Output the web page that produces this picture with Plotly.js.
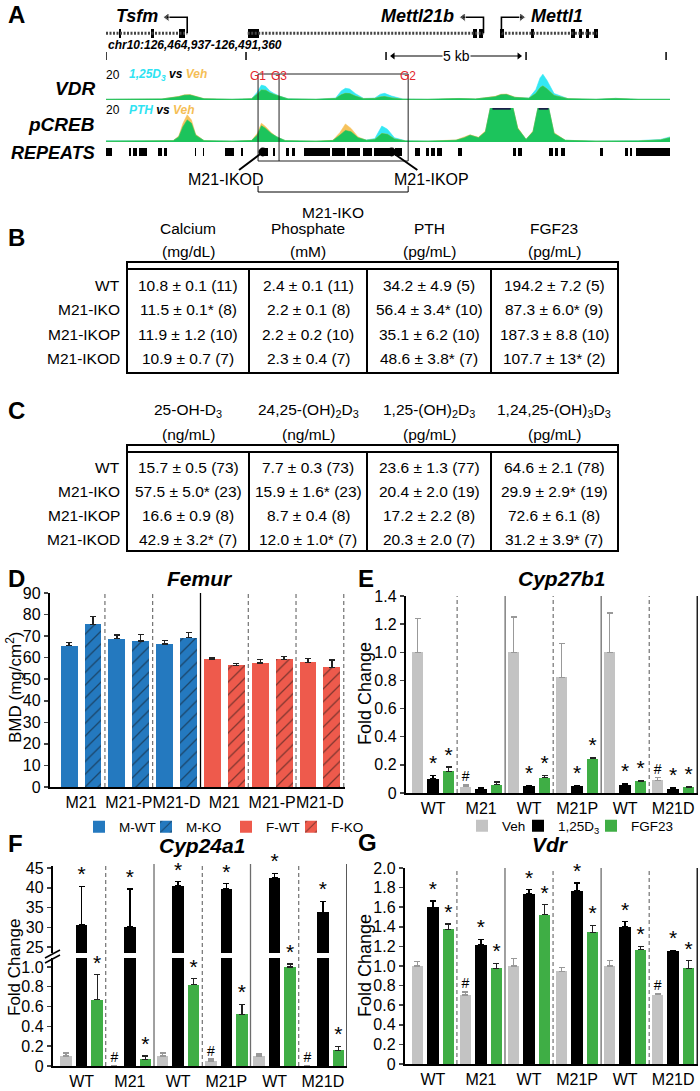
<!DOCTYPE html>
<html><head><meta charset="utf-8">
<script src="https://cdn.plot.ly/plotly-3.0.1.min.js"></script>
<style>html,body{margin:0;padding:0;background:#fff;}#chart{width:700px;height:1091px;}</style>
</head><body><div id="chart"></div>
<script>
// ================= DATA =================
// ---- Panel A: genome browser window (positions in kb from window start) ----
const trackTicksKb = [0, 5, 10, 15, 20];
const scaleBarKb = [10, 15];
const scaleBarLabel = '5 kb';
const chromLabel = 'chr10:126,464,937-126,491,360';
const geneNames = ['Tsfm', 'Mettl21b', 'Mettl1'];
const geneStart = [0.0, 5.06, 14.12];
const geneEnd = [2.9, 13.48, 17.54];
const geneStrand = ['-', '-', '+'];
const exonStart = [0.45, 1.62, 2.62, 5.06, 13.12, 13.33, 14.06, 15.18, 16.62, 16.88, 17.14, 17.42];
const exonEnd   = [0.55, 1.72, 2.82, 5.46, 13.26, 13.48, 14.2, 15.3, 16.74, 17.0, 17.26, 17.56];
const guideNames = ['G1', 'G3', 'G2'];
const guideKb = [5.43, 6.18, 10.79];
const deletionNames = ['M21-IKOD', 'M21-IKOP'];
const deletionKb = [5.6, 10.2];
const ikoName = 'M21-IKO';
const trackNames = ['VDR', 'pCREB', 'REPEATS'];
const trackMax = 20;

const vdrX   = [0, 1, 2, 2.6, 2.8, 3.0, 3.2, 3.5, 4.5, 5.2, 5.4, 5.55, 5.7, 5.85, 6.0, 6.2, 6.5, 7.5, 8.2, 8.4, 8.55, 8.7, 8.9, 9.2, 9.6, 9.8, 9.95, 10.2, 10.6, 11.5, 12.3, 12.6, 13.2, 13.9, 14.1, 14.3, 14.6, 15.1, 15.35, 15.5, 15.6, 15.75, 16.0, 16.5, 17.5, 17.9, 18.2, 18.5, 19, 20.14];
const vdrD3  = [0.6, 0.6, 0.8, 2.5, 3.6, 3.8, 2.8, 0.9, 0.6, 1.0, 6.0, 11.5, 10.5, 7.0, 5.0, 3.0, 1.0, 0.6, 1.5, 7.0, 9.0, 8.5, 5.0, 1.2, 1.5, 4.5, 5.1, 3.0, 0.8, 0.6, 1.0, 1.2, 0.8, 2.5, 4.0, 4.2, 2.0, 1.5, 8.0, 17.0, 19.8, 15.0, 5.0, 1.0, 0.6, 1.2, 1.3, 1.0, 0.6, 0.6];
const vdrVeh = [0.5, 0.5, 0.8, 2.8, 4.0, 4.2, 3.0, 1.0, 0.5, 0.9, 4.5, 7.7, 7.5, 5.5, 4.2, 2.6, 0.8, 0.5, 1.2, 4.0, 5.1, 5.0, 3.0, 1.0, 1.2, 2.4, 2.6, 1.6, 0.6, 0.5, 0.9, 1.1, 0.8, 2.8, 4.4, 4.6, 2.2, 1.3, 5.0, 9.5, 10.8, 8.5, 3.5, 1.0, 0.5, 1.0, 1.2, 0.9, 0.5, 0.5];

const crebX   = [0, 1.5, 2.4, 2.6, 2.75, 2.9, 3.05, 3.2, 3.5, 4.5, 5.2, 5.4, 5.55, 5.7, 5.9, 6.1, 6.4, 7.5, 8.1, 8.35, 8.55, 8.75, 9.0, 9.3, 9.6, 9.85, 10.05, 10.3, 10.7, 11.5, 12.5, 12.8, 13.0, 13.3, 13.55, 13.8, 14.1, 14.45, 14.7, 15.0, 15.25, 15.45, 15.6, 15.8, 16.0, 16.4, 17.5, 19, 19.8, 20.14];
const crebPTH = [0.8, 0.6, 0.8, 3.0, 9.0, 13.0, 11.0, 4.0, 0.8, 0.6, 0.9, 4.0, 9.5, 8.0, 5.0, 3.0, 0.8, 0.5, 0.9, 4.0, 6.8, 6.0, 2.5, 1.2, 2.0, 9.4, 7.5, 2.5, 0.7, 0.6, 1.0, 2.5, 4.0, 2.5, 6.0, 26, 30, 26, 8.0, 1.5, 6.0, 22, 26, 20.5, 5.0, 1.0, 0.6, 0.8, 1.5, 3.0];
const crebVeh = [0.5, 0.5, 0.8, 3.5, 11.0, 16.0, 13.0, 4.5, 0.8, 0.5, 0.9, 5.0, 11.0, 9.0, 5.5, 3.0, 0.8, 0.5, 1.0, 5.5, 10.6, 8.0, 3.0, 1.0, 1.5, 5.0, 4.5, 1.8, 0.6, 0.5, 1.2, 3.0, 4.2, 2.8, 6.5, 26, 30, 26, 8.5, 1.5, 6.5, 22, 26, 20.5, 5.5, 1.0, 0.5, 0.6, 1.2, 2.5];

const repeatStart = [0.0, 0.82, 0.96, 1.18, 1.86, 2.07, 3.18, 3.46, 4.25, 4.82, 5.61, 5.96, 6.43, 6.64, 7.07, 8.07, 8.61, 9.18, 9.57, 10.32, 11.04, 11.43, 11.61, 11.82, 12.57, 14.54, 14.71, 15.82, 16.04, 16.25, 17.64, 18.54, 18.71, 18.93];
const repeatEnd   = [0.21, 0.89, 1.11, 1.46, 2.0, 2.18, 3.21, 3.5, 4.57, 4.89, 5.79, 6.04, 6.54, 6.75, 8.0, 8.54, 9.07, 9.5, 10.21, 10.57, 11.21, 11.54, 11.75, 12.0, 12.71, 14.64, 14.86, 15.96, 16.14, 16.39, 17.75, 18.64, 18.79, 20.14];

// ---- Panel B ----
const rowLabels = ['WT', 'M21-IKO', 'M21-IKOP', 'M21-IKOD'];
const bHeaders = ['Calcium', 'Phosphate', 'PTH', 'FGF23'];
const bUnits = ['(mg/dL)', '(mM)', '(pg/mL)', '(pg/mL)'];
const bCalcium   = ['10.8 ± 0.1 (11)', '11.5 ± 0.1* (8)', '11.9 ± 1.2 (10)', '10.9 ± 0.7 (7)'];
const bPhosphate = ['2.4 ± 0.1 (11)', '2.2 ± 0.1 (8)', '2.2 ± 0.2 (10)', '2.3 ± 0.4 (7)'];
const bPTH       = ['34.2 ± 4.9 (5)', '56.4 ± 3.4* (10)', '35.1 ± 6.2 (10)', '48.6 ± 3.8* (7)'];
const bFGF23     = ['194.2 ± 7.2 (5)', '87.3 ± 6.0* (9)', '187.3 ± 8.8 (10)', '107.7 ± 13* (2)'];

// ---- Panel C ----
const cHeaders = ['25-OH-D<sub>3</sub>', '24,25-(OH)<sub>2</sub>D<sub>3</sub>', '1,25-(OH)<sub>2</sub>D<sub>3</sub>', '1,24,25-(OH)<sub>3</sub>D<sub>3</sub>'];
const cUnits = ['(ng/mL)', '(ng/mL)', '(pg/mL)', '(pg/mL)'];
const c25OHD3    = ['15.7 ± 0.5 (73)', '57.5 ± 5.0* (23)', '16.6 ± 0.9 (8)', '42.9 ± 3.2* (7)'];
const c2425OH2D3 = ['7.7 ± 0.3 (73)', '15.9 ± 1.6* (23)', '8.7 ± 0.4 (8)', '12.0 ± 1.0* (7)'];
const c125OH2D3  = ['23.6 ± 1.3 (77)', '20.4 ± 2.0 (19)', '17.2 ± 2.2 (8)', '20.3 ± 2.0 (7)'];
const c12425OH3D3= ['64.6 ± 2.1 (78)', '29.9 ± 2.9* (19)', '72.6 ± 6.1 (8)', '31.2 ± 3.9* (7)'];

// ---- Panel D: Femur BMD ----
const dGroups = ['M21', 'M21-P', 'M21-D'];
const dMWT = [65.5, 68.8, 66.3], dMWTerr = [1.6, 1.7, 1.6];
const dMKO = [75.5, 67.7, 69.3], dMKOerr = [3.5, 3.1, 2.4];
const dFWT = [59.2, 57.5, 57.9], dFWTerr = [0.7, 1.8, 1.7];
const dFKO = [56.5, 59.2, 55.6], dFKOerr = [0.8, 1.5, 3.3];

// ---- Panels E-G: fold change ----
const foldGroups = ['WT', 'M21', 'WT', 'M21P', 'WT', 'M21D'];
const eVeh = [1.0, 0.045, 1.0, 0.823, 1.0, 0.09],     eVehErr = [0.24, 0.012, 0.25, 0.24, 0.28, 0.021];
const eD3  = [0.099, 0.028, 0.047, 0.047, 0.057, 0.028], eD3Err = [0.026, 0.01, 0.007, 0.007, 0.009, 0.01];
const eFGF = [0.154, 0.059, 0.109, 0.244, 0.083, 0.04],  eFGFErr = [0.03, 0.019, 0.014, 0.009, 0.007, 0.005];
const eSigVeh = ['', '#', '', '', '', '#'], eSigD3 = ['*', '', '*', '*', '*', '*'], eSigFGF = ['*', '', '*', '*', '*', '*'];

const fVeh = [0.10, 0.005, 0.10, 0.05, 0.10, 0.005],   fVehErr = [0.03, 0, 0.03, 0.02, 0.02, 0];
const fD3  = [30.7, 30.1, 40.5, 39.7, 42.5, 33.8],     fD3Err = [9.7, 9.6, 1.0, 1.3, 1.1, 2.8];
const fFGF = [0.67, 0.068, 0.82, 0.52, 1.0, 0.16],     fFGFErr = [0.25, 0.032, 0.06, 0.10, 0.03, 0.04];
const fSigVeh = ['', '#', '', '#', '', '#'], fSigD3 = ['*', '*', '*', '*', '*', '*'], fSigFGF = ['*', '*', '*', '*', '*', '*'];

const gVeh = [1.0, 0.705, 1.0, 0.944, 1.0, 0.709],      gVehErr = [0.046, 0.031, 0.08, 0.044, 0.056, 0.007];
const gD3  = [1.598, 1.216, 1.738, 1.768, 1.397, 1.155], gD3Err = [0.065, 0.058, 0.04, 0.079, 0.054, 0.004];
const gFGF = [1.376, 0.978, 1.523, 1.342, 1.165, 0.978], gFGFErr = [0.052, 0.051, 0.102, 0.072, 0.034, 0.075];
const gSigVeh = ['', '#', '', '', '', '#'], gSigD3 = ['*', '*', '*', '*', '*', '*'], gSigFGF = ['*', '*', '*', '*', '*', '*'];

// ================= RENDER =================
const W = 700, H = 1091;
const px = v => v / W;
const py = v => 1 - v / H;
const ARIAL = "'Liberation Sans', Arial, sans-serif";
const CYAN = '#33e8f4', ORANGE = '#f6c25c', GREEN = '#1cc45c';
const BLUE = '#2479bf', RED = '#ee5a4c', VEHC = '#c3c3c3', D3C = '#000000', FGFC = '#3fae45';

const traces = [], annotations = [], shapes = [];
function tp(text, x, y, o) {
  annotations.push(Object.assign({ text, x: px(x), y: py(y), xref: 'paper', yref: 'paper', showarrow: false,
    xanchor: 'center', yanchor: 'middle', font: { family: ARIAL, size: 14, color: '#000' } }, o || {}));
}
function pline(x0, y0, x1, y1, o) {
  shapes.push(Object.assign({ type: 'line', xref: 'paper', yref: 'paper', x0: px(x0), y0: py(y0), x1: px(x1), y1: py(y1),
    line: { color: '#000', width: 2 } }, o || {}));
}
const skip = { hoverinfo: 'skip', showlegend: false };

// ---- Panel A ----
tp('<b>A</b>', 6, 15, { xanchor: 'left', font: { family: ARIAL, size: 24 } });
const inX = [], inY = [];
geneNames.forEach((g, i) => { inX.push(geneStart[i], geneEnd[i], null); inY.push(0, 0, null); });
traces.push(Object.assign({ type: 'scatter', mode: 'lines', x: inX, y: inY, xaxis: 'x', yaxis: 'y',
  line: { color: '#444', width: 3, dash: '2px,1.5px' } }, skip));
traces.push(Object.assign({ type: 'bar', x: exonStart.map((s, i) => (s + exonEnd[i]) / 2), width: exonStart.map((s, i) => exonEnd[i] - s),
  y: exonStart.map(() => 0.55), base: -0.275, xaxis: 'x', yaxis: 'y', marker: { color: '#000', line: { width: 0 } } }, skip));
geneNames.forEach((g, i) => {
  const dir = geneStrand[i] === '+' ? 1 : -1;
  const tss = dir > 0 ? geneStart[i] : geneEnd[i];
  const tip = tss + dir * 0.72;
  traces.push(Object.assign({ type: 'scatter', mode: 'lines+markers', x: [tss, tss, tip], y: [0, 1, 1], xaxis: 'x', yaxis: 'y',
    line: { color: '#000', width: 1.6 }, marker: { symbol: ['circle', 'circle', dir > 0 ? 'triangle-right' : 'triangle-left'], size: [0, 0, 8], color: '#000' } }, skip));
  annotations.push({ text: '<b><i>' + g + '</i></b>', xref: 'x', yref: 'y', x: tip + dir * 0.25, y: 1.05,
    xanchor: dir > 0 ? 'left' : 'right', yanchor: 'middle', showarrow: false, font: { family: ARIAL, size: 18, color: '#000' } });
});
annotations.push({ text: '<b><i>' + chromLabel + '</i></b>', xref: 'x', yref: 'paper', x: 0, y: py(45), xanchor: 'left', yanchor: 'middle',
  showarrow: false, font: { family: ARIAL, size: 12, color: '#000' } });
traces.push(Object.assign({ type: 'scatter', mode: 'markers', x: trackTicksKb, y: trackTicksKb.map(() => 0), xaxis: 'x', yaxis: 'y2',
  marker: { symbol: 'line-ns', size: 8, line: { width: 1.5, color: '#000' } } }, skip));
traces.push(Object.assign({ type: 'scatter', mode: 'lines+markers', x: [scaleBarKb[0] + 0.25, scaleBarKb[1] - 0.25], y: [0, 0], xaxis: 'x', yaxis: 'y2',
  line: { color: '#000', width: 1.2 }, marker: { symbol: ['triangle-left', 'triangle-right'], size: 6, color: '#000' } }, skip));
annotations.push({ text: scaleBarLabel, xref: 'x', yref: 'y2', x: (scaleBarKb[0] + scaleBarKb[1]) / 2, y: 0, showarrow: false,
  bgcolor: '#fff', borderpad: 0, font: { family: ARIAL, size: 14, color: '#000' } });
function track(xs, trt, veh, yaxis) {
  const shared = trt.map((v, i) => Math.min(v, veh[i]));
  [[trt, CYAN], [veh, ORANGE], [shared, GREEN]].forEach(([ys, c]) => traces.push(Object.assign({ type: 'scatter', mode: 'lines',
    x: xs, y: ys, xaxis: 'x', yaxis, fill: 'tozeroy', fillcolor: c, line: { color: c, width: 0.6 } }, skip)));
  traces.push(Object.assign({ type: 'scatter', mode: 'lines', x: xs,
    y: xs.map((x, i) => Math.max(trt[i], veh[i]) >= trackMax ? trackMax : null), connectgaps: false, xaxis: 'x', yaxis,
    line: { color: '#1b1f4a', width: 3.5 } }, skip));
}
track(vdrX, vdrD3, vdrVeh, 'y3');
track(crebX, crebPTH, crebVeh, 'y4');
traces.push(Object.assign({ type: 'bar', x: repeatStart.map((s, i) => (s + repeatEnd[i]) / 2), width: repeatStart.map((s, i) => repeatEnd[i] - s),
  y: repeatStart.map(() => 1), base: 0, xaxis: 'x', yaxis: 'y5', marker: { color: '#000', line: { width: 0 } } }, skip));
const lblFont = { family: ARIAL, size: 19, color: '#000' };
tp('<b><i>' + trackNames[0] + '</i></b>', 97, 88, { xanchor: 'right', font: lblFont });
tp('<b><i>' + trackNames[1] + '</i></b>', 97, 124, { xanchor: 'right', font: lblFont });
tp('<b><i>' + trackNames[2] + '</i></b>', 97, 153, { xanchor: 'right', font: { family: ARIAL, size: 18, color: '#000' } });
tp(String(trackMax), 104, 75, { xanchor: 'left', font: { family: ARIAL, size: 12 } });
tp(String(trackMax), 104, 110, { xanchor: 'left', font: { family: ARIAL, size: 12 } });
tp('<b><i><span style="color:#2fe3f2">1,25D<sub>3</sub></span> vs <span style="color:#f5be55">Veh</span></i></b>', 127, 75, { xanchor: 'left', font: { family: ARIAL, size: 12 } });
tp('<b><i><span style="color:#2fe3f2">PTH</span> vs <span style="color:#f5be55">Veh</span></i></b>', 127, 110, { xanchor: 'left', font: { family: ARIAL, size: 12 } });
shapes.push({ type: 'rect', xref: 'x', yref: 'paper', x0: guideKb[0], x1: guideKb[2], y0: py(161), y1: py(74), line: { color: '#222', width: 1 } });
shapes.push({ type: 'line', xref: 'x', yref: 'paper', x0: guideKb[1], x1: guideKb[1], y0: py(161), y1: py(74), line: { color: '#222', width: 1 } });
guideNames.forEach((g, i) => annotations.push({ text: g, xref: 'x', yref: 'paper', x: guideKb[i], y: py(67), showarrow: false,
  font: { family: ARIAL, size: 12, color: '#e3262d' } }));
deletionNames.forEach((d, i) => annotations.push({ text: d, xref: 'x', yref: 'paper', x: deletionKb[i], y: py(152),
  showarrow: true, arrowhead: 6, arrowsize: 1.1, arrowwidth: 2, arrowcolor: '#000', ax: i === 0 ? -37 : 40, ay: 28,
  font: { family: ARIAL, size: 16, color: '#000' } }));
shapes.push({ type: 'path', xref: 'x', yref: 'paper', path: 'M' + guideKb[0] + ',' + py(186) + ' L' + guideKb[0] + ',' + py(192) +
  ' L' + guideKb[2] + ',' + py(192) + ' L' + guideKb[2] + ',' + py(186), line: { color: '#000', width: 1 } });
annotations.push({ text: ikoName, xref: 'x', yref: 'paper', x: (guideKb[0] + guideKb[2]) / 2, y: py(202), showarrow: false,
  font: { family: ARIAL, size: 15.5, color: '#000' } });

// ---- Tables B and C ----
const colCenters = [188, 308, 429, 554];
const TF = { family: ARIAL, size: 15.5, color: '#000' };
function table(letter, letterY, headers, units, cols, headY, unitY, top, inner, rowYs, bottom) {
  tp('<b>' + letter + '</b>', 6, letterY, { xanchor: 'left', font: { family: ARIAL, size: 24 } });
  headers.forEach((h, i) => {
    tp(h, colCenters[i], headY, { font: TF });
    tp(units[i], colCenters[i], unitY, { font: TF });
  });
  rowLabels.forEach((r, j) => tp(r, 122, rowYs[j], { xanchor: 'right', font: TF }));
  cols.forEach((col, i) => col.forEach((v, j) => tp(v, colCenters[i], rowYs[j], { font: TF })));
  shapes.push({ type: 'rect', xref: 'paper', yref: 'paper', x0: px(127), x1: px(618), y0: py(bottom), y1: py(top), line: { color: '#000', width: 2 } });
  pline(127, inner, 618, inner);
  [249, 367, 491].forEach(c => pline(c, inner, c, bottom));
}
table('B', 238, bHeaders, bUnits, [bCalcium, bPhosphate, bPTH, bFGF23], 229, 251, 262, 269, [285, 309, 334, 358], 373);
table('C', 410, cHeaders, cUnits, [c25OHD3, c2425OH2D3, c125OH2D3, c12425OH3D3], 410, 434, 445, 452, [467, 491, 515, 539], 551);

// ---- Panel D ----
tp('<b>D</b>', 6, 578, { xanchor: 'left', font: { family: ARIAL, size: 24 } });
tp('<b><i>Femur</i></b>', 200, 578, { font: { family: ARIAL, size: 21 } });
tp('BMD (mg/cm<sup>2</sup>)', 14, 688, { textangle: -90, font: { family: ARIAL, size: 17 } });
const dErr = (arr) => ({ type: 'data', symmetric: false, array: arr, arrayminus: arr.map(() => 0), color: '#222', thickness: 1.3, width: 3 });
const hatch = c => ({ color: c, line: { width: 0 }, pattern: { shape: '/', fgcolor: '#111', bgcolor: c, size: 9, solidity: 0.14, fillmode: 'overlay' } });
[['M-WT', dMWT, dMWTerr, 0, { color: BLUE, line: { width: 0 } }, 'legend'],
 ['M-KO', dMKO, dMKOerr, 1, hatch(BLUE), 'legend2'],
 ['F-WT', dFWT, dFWTerr, 6, { color: RED, line: { width: 0 } }, 'legend3'],
 ['F-KO', dFKO, dFKOerr, 7, hatch(RED), 'legend4']].forEach(([name, vals, err, off, marker, leg]) => {
  traces.push({ type: 'bar', name, x: vals.map((v, i) => off + 2 * i), y: vals, width: 0.71, xaxis: 'x2', yaxis: 'y6',
    marker, error_y: dErr(err), legend: leg, hoverinfo: 'skip' });
});
for (let i = 0; i < 6; i++) {
  const x = 2 * i + 1.5, solid = i === 2;
  shapes.push({ type: 'line', xref: 'x2', yref: 'paper', x0: x, x1: x, y0: py(787), y1: py(593),
    line: { color: solid ? '#000' : '#555', width: solid ? 1.3 : 1, dash: solid ? 'solid' : '4px,3px' } });
}

// ---- Panels E, F, G ----
const slot = (g, b) => g * 3.1 + b;
const errFor = (arr, c) => ({ type: 'data', symmetric: false, array: arr, arrayminus: arr.map(() => 0), color: c, thickness: 1.3, width: 3 });
function foldBars(xa, ya, vals, errs, b, color, errColor, name, legend, showleg) {
  traces.push({ type: 'bar', name, x: vals.map((v, g) => slot(g, b)), y: vals, width: 0.74, xaxis: xa, yaxis: ya,
    marker: { color, line: { width: 0 } }, error_y: errFor(errs, errColor), showlegend: showleg, legend, hoverinfo: 'skip' });
}
function sigText(xa, ya, vals, errs, sig, b) {
  const idx = sig.map((s, i) => i).filter(i => sig[i] !== '');
  traces.push(Object.assign({ type: 'scatter', mode: 'text', x: idx.map(g => slot(g, b)), y: idx.map(g => vals[g] + errs[g]),
    text: idx.map(g => sig[g]), textposition: 'top center', cliponaxis: false, xaxis: xa, yaxis: ya,
    textfont: { family: ARIAL, size: sig.includes('#') ? 14 : 21, color: '#000' } }, skip));
}
function separators(xa, yTop, yBot) {
  for (let g = 0; g < 6; g++) {
    const x = slot(g, 2.55), solid = g % 2 === 1;
    shapes.push({ type: 'line', xref: xa, yref: 'paper', x0: x, x1: x, y0: py(yBot), y1: py(yTop),
      line: { color: solid ? (g === 5 ? '#000' : '#6d6d6d') : '#555', width: solid ? 1.3 : 1, dash: solid ? 'solid' : '4px,3px' } });
  }
}
// E
tp('<b>E</b>', 356, 578, { xanchor: 'left', font: { family: ARIAL, size: 24 } });
tp('<b><i>Cyp27b1</i></b>', 562, 578, { font: { family: ARIAL, size: 21 } });
tp('Fold Change', 365, 694, { textangle: -90, font: { family: ARIAL, size: 18 } });
foldBars('x3', 'y7', eVeh, eVehErr, 0, VEHC, '#999', 'Veh', 'legend5', true);
foldBars('x3', 'y7', eD3, eD3Err, 1, D3C, '#000', '1,25D<sub>3</sub>', 'legend6', true);
foldBars('x3', 'y7', eFGF, eFGFErr, 2, FGFC, '#222', 'FGF23', 'legend7', true);
sigText('x3', 'y7', eVeh, eVehErr, eSigVeh, 0); sigText('x3', 'y7', eD3, eD3Err, eSigD3, 1); sigText('x3', 'y7', eFGF, eFGFErr, eSigFGF, 2);
separators('x3', 596, 793);
// F
tp('<b>F</b>', 6, 843, { xanchor: 'left', font: { family: ARIAL, size: 24 } });
tp('<b><i>Cyp24a1</i></b>', 202, 845, { font: { family: ARIAL, size: 21 } });
tp('Fold Change', 14, 968, { textangle: -90, font: { family: ARIAL, size: 17 } });
['y8', 'y9'].forEach(ya => {
  foldBars('x4', ya, fVeh, fVehErr, 0, VEHC, '#999', 'Veh', 'legend5', false);
  foldBars('x4', ya, fD3, fD3Err, 1, D3C, '#000', '1,25D3', 'legend6', false);
  foldBars('x4', ya, fFGF, fFGFErr, 2, FGFC, '#222', 'FGF23', 'legend7', false);
});
sigText('x4', 'y9', fVeh, fVehErr, fSigVeh, 0); sigText('x4', 'y8', fD3, fD3Err, fSigD3, 1); sigText('x4', 'y9', fFGF, fFGFErr, fSigFGF, 2);
separators('x4', 864, 1066);
pline(45, 958, 60, 950, { line: { color: '#000', width: 1.5 } });
pline(45, 963, 60, 955, { line: { color: '#000', width: 1.5 } });
// G
tp('<b>G</b>', 356, 842, { xanchor: 'left', font: { family: ARIAL, size: 24 } });
tp('<b><i>Vdr</i></b>', 550, 844, { font: { family: ARIAL, size: 21 } });
tp('Fold Change', 365, 966, { textangle: -90, font: { family: ARIAL, size: 18 } });
foldBars('x5', 'y10', gVeh, gVehErr, 0, VEHC, '#999', 'Veh', 'legend5', false);
foldBars('x5', 'y10', gD3, gD3Err, 1, D3C, '#000', '1,25D3', 'legend6', false);
foldBars('x5', 'y10', gFGF, gFGFErr, 2, FGFC, '#222', 'FGF23', 'legend7', false);
sigText('x5', 'y10', gVeh, gVehErr, gSigVeh, 0); sigText('x5', 'y10', gD3, gD3Err, gSigD3, 1); sigText('x5', 'y10', gFGF, gFGFErr, gSigFGF, 2);
separators('x5', 868, 1064);

// ---- axes & legends ----
const hid = { visible: false, fixedrange: true };
const tickF = { family: ARIAL, size: 16, color: '#000' };
const xBar = (dom, rng, anchor, vals, text) => ({ domain: dom, range: rng, anchor, showline: true, linewidth: 2.2, linecolor: '#000',
  tickvals: vals, ticktext: text, ticks: '', tickangle: 0, tickfont: tickF, showgrid: false, zeroline: false, fixedrange: true });
const yBar = (dom, rng, anchor, vals, text) => ({ domain: dom, range: rng, anchor, showline: true, linewidth: 2.2, linecolor: '#000',
  tickvals: vals, ticktext: text, ticks: 'outside', ticklen: 4, tickwidth: 1.5, tickfont: tickF, showgrid: false, zeroline: false, fixedrange: true });
const foldTickVals = foldGroups.map((g, i) => slot(i, 1));
const leg = (xText, yc) => ({ orientation: 'h', x: px(xText - 14), y: py(yc), xanchor: 'left', yanchor: 'middle',
  font: { family: ARIAL, size: 13.5, color: '#000' }, itemwidth: 30, bgcolor: 'rgba(0,0,0,0)', itemclick: false, itemdoubleclick: false });
const layout = {
  width: W, height: H, margin: { l: 0, r: 0, t: 0, b: 0 }, paper_bgcolor: '#fff', plot_bgcolor: 'rgba(0,0,0,0)',
  barmode: 'overlay', bargap: 0, font: { family: ARIAL, color: '#000' },
  xaxis: Object.assign({ domain: [px(106), px(670)], range: [0, 20.14], anchor: 'y3' }, hid),
  yaxis: Object.assign({ domain: [py(38), py(14)], range: [-0.3, 1.2], anchor: 'x' }, hid),
  yaxis2: Object.assign({ domain: [py(60), py(52)], range: [-1, 1], anchor: 'x' }, hid),
  yaxis3: Object.assign({ domain: [py(100), py(74)], range: [0, trackMax], anchor: 'x' }, hid),
  yaxis4: Object.assign({ domain: [py(142), py(108)], range: [0, trackMax], anchor: 'x' }, hid),
  yaxis5: Object.assign({ domain: [py(156), py(148)], range: [0, 1], anchor: 'x' }, hid),
  xaxis2: xBar([px(50), px(345)], [-0.8, 11.55], 'y6', [0.5, 2.5, 4.5, 6.5, 8.5, 10.5], dGroups.concat(dGroups)),
  yaxis6: yBar([py(787), py(593)], [0, 90], 'x2', [0, 10, 20, 30, 40, 50, 60, 70, 80, 90], ['0', '10', '20', '30', '40', '50', '60', '70', '80', '90']),
  xaxis3: xBar([px(406), px(698)], [-0.75, 18.1], 'y7', foldTickVals, foldGroups),
  yaxis7: yBar([py(793), py(596)], [0, 1.4], 'x3', [0, 0.2, 0.4, 0.6, 0.8, 1.0, 1.2, 1.4], ['0', '0.2', '0.4', '0.6', '0.8', '1.0', '1.2', '1.4']),
  xaxis4: xBar([px(53), px(347)], [-0.84, 18.05], 'y9', foldTickVals, foldGroups),
  yaxis8: yBar([py(953), py(866)], [23.5, 45.5], 'x4', [25, 30, 35, 40, 45], ['25', '30', '35', '40', '45']),
  yaxis9: yBar([py(1066), py(958)], [0, 1.09], 'x4', [0, 0.2, 0.4, 0.6, 0.8, 1.0], ['0', '0.2', '0.4', '0.6', '0.8', '1.0']),
  xaxis5: xBar([px(405), px(698)], [-0.8, 18.1], 'y10', foldTickVals, foldGroups),
  yaxis10: yBar([py(1064), py(868)], [0, 2.0], 'x5', [0, 0.2, 0.4, 0.6, 0.8, 1.0, 1.2, 1.4, 1.6, 1.8, 2.0], ['0', '0.2', '0.4', '0.6', '0.8', '1.0', '1.2', '1.4', '1.6', '1.8', '2.0']),
  legend: leg(93, 827), legend2: leg(160, 827), legend3: leg(240, 827), legend4: leg(305, 827),
  legend5: leg(476, 826), legend6: leg(532, 826), legend7: leg(605, 826),
  annotations, shapes
};
Plotly.newPlot('chart', traces, layout, { staticPlot: true, displayModeBar: false });
</script></body></html>
